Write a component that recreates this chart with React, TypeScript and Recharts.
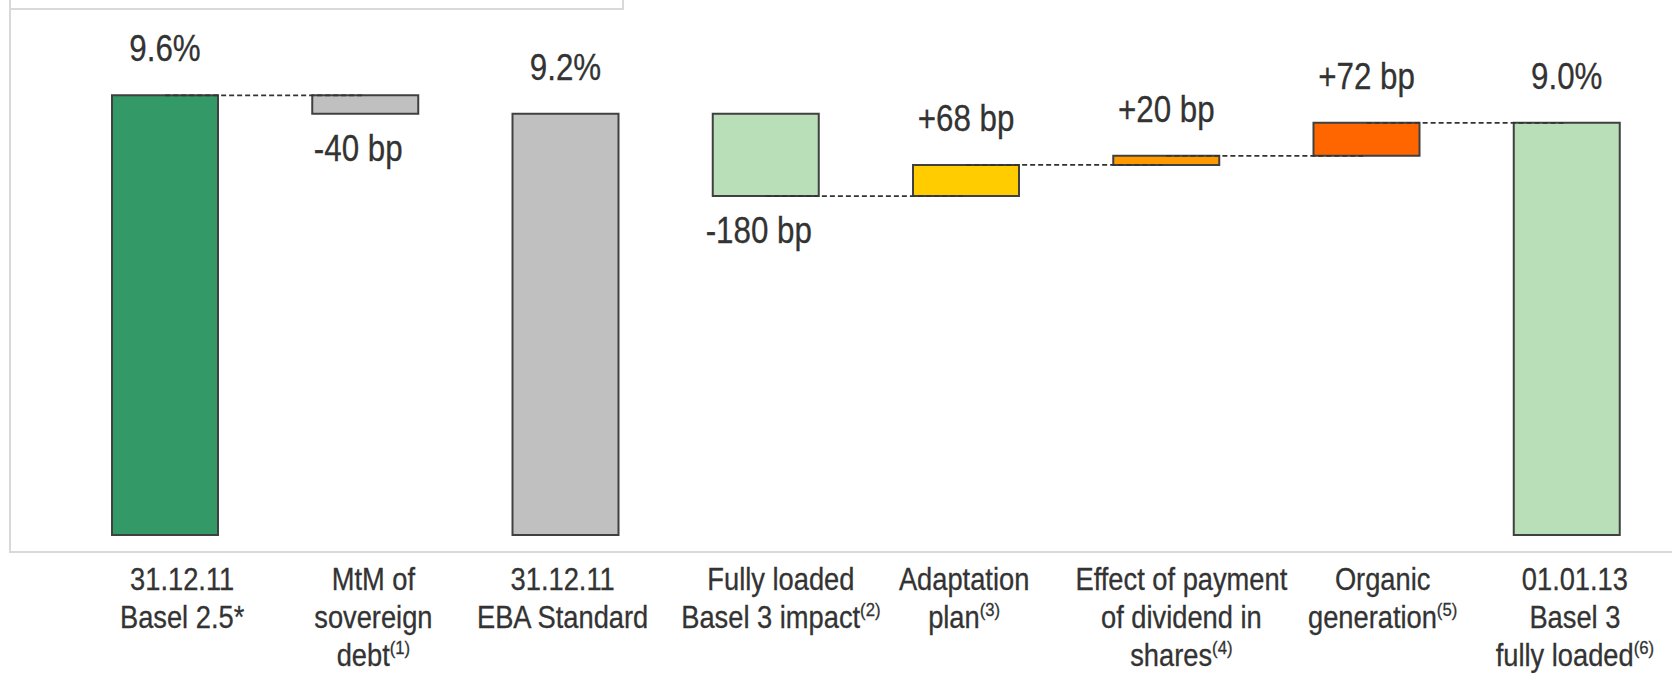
import React from 'react';
import { BarChart, Bar, XAxis, YAxis, Cell, LabelList, ReferenceLine } from 'recharts';

const CATEGORY_KEYS = ['c1', 'c2', 'c3', 'c4', 'c5', 'c6', 'c7', 'c8'];
const TICK_LABELS: string[][] = [
  ['31.12.11', 'Basel 2.5*'],
  ['MtM of', 'sovereign', 'debt^(1)'],
  ['31.12.11', 'EBA Standard'],
  ['Fully loaded', 'Basel 3 impact^(2)'],
  ['Adaptation', 'plan^(3)'],
  ['Effect of payment', 'of dividend in', 'shares^(4)'],
  ['Organic', 'generation^(5)'],
  ['01.01.13', 'Basel 3', 'fully loaded^(6)'],
];
const STEP_KIND = ['total', 'delta', 'total', 'delta', 'delta', 'delta', 'delta', 'total'];
const STEP_VALUES = [9.6, -0.4, 9.2, -1.8, 0.68, 0.2, 0.72, 9.0];
const BAR_COLORS = ['#339966', '#C0C0C0', '#C0C0C0', '#B9DFB9', '#FFCC00', '#FF9900', '#FF6600', '#B9DFB9'];
const CONNECTORS: [number, number][] = [[0, 1], [3, 4], [4, 5], [5, 6], [6, 7]];
const TICK_DX = [17, 8, -3, 15, -2, 15, 16, 8];
const LABEL_DX = [0, -7, 0, -7, 0, 0, 0, 0];

const FONT = "'Liberation Sans', Arial, sans-serif";
const AXIS_SCALE = 0.88;
const VALUE_SCALE = 0.87;
const TEXT = '#333333';

type Row = { key: string; base: number; span: number; end: number; kind: string; value: number; label: string };

const DATA: Row[] = (() => {
  let level = 0;
  return CATEGORY_KEYS.map((key, i) => {
    const v = STEP_VALUES[i];
    const kind = STEP_KIND[i];
    let base: number, span: number, end: number, label: string;
    if (kind === 'total') {
      base = 0; span = v; end = v; label = `${v.toFixed(1)}%`;
    } else {
      const start = level;
      end = start + v;
      base = Math.min(start, end);
      span = Math.abs(v);
      const bp = Math.round(v * 100);
      label = `${bp > 0 ? '+' : ''}${bp} bp`;
    }
    level = end;
    return { key, base, span, end, kind, value: v, label };
  });
})();

const AxisTick = (props: any) => {
  const { x, y, payload } = props;
  const i = CATEGORY_KEYS.indexOf(payload.value);
  const lines = TICK_LABELS[i] || [];
  return (
    <g transform={`translate(${x + TICK_DX[i]},${y}) scale(${AXIS_SCALE},1)`}>
      <text
        textAnchor="middle"
        fontFamily={FONT}
        fontSize={31}
        fill={TEXT}
        stroke={TEXT}
        strokeWidth={0.3}
      >
        {lines.map((ln, j) => {
          const [main, sup] = ln.split('^');
          return (
            <tspan key={j} x={0} y={55 + j * 38}>
              {main}
              {sup ? <tspan fontSize={19} dy={-12}>{sup}</tspan> : null}
            </tspan>
          );
        })}
      </text>
    </g>
  );
};

const ValueLabel = (props: any) => {
  const { x, y, width, height, index } = props;
  const d = DATA[index];
  if (!d) return null;
  const cx = x + width / 2 + LABEL_DX[index];
  const below = d.kind === 'delta' && d.value < 0;
  const ty = below ? y + Math.abs(height) + 47 : y - 34;
  return (
    <text
      transform={`translate(${cx},${ty}) scale(${VALUE_SCALE},1)`}
      x={0}
      y={0}
      textAnchor="middle"
      fontFamily={FONT}
      fontSize={36}
      fill={TEXT}
      stroke={TEXT}
      strokeWidth={0.3}
    >
      {d.label}
    </text>
  );
};

export default function App() {
  return (
    <div style={{ position: 'absolute', left: 0, top: 0, width: 1672, height: 673, background: '#fff' }}>
      <svg width={1672} height={673} style={{ position: 'absolute', left: 0, top: 0 }}>
        <g stroke="#D9D9D9" strokeWidth={2} fill="none">
          <polyline points="10,0 10,552 1672,552" />
          <polyline points="10,9 623,9 623,0" />
        </g>
      </svg>
      <div style={{ position: 'absolute', left: 0, top: 0 }}>
        <BarChart
          width={1672}
          height={673}
          data={DATA}
          margin={{ top: 77, right: 5, bottom: 0, left: 65 }}
          barSize={106}
        >
          <XAxis
            dataKey="key"
            height={138}
            axisLine={false}
            tickLine={false}
            tickSize={0}
            tickMargin={0}
            interval={0}
            tick={<AxisTick />}
          />
          <YAxis hide domain={[0, 10]} />
          <Bar dataKey="base" stackId="s" fill="transparent" isAnimationActive={false} />
          <Bar dataKey="span" stackId="s" stroke="#404040" strokeWidth={2} isAnimationActive={false}>
            {DATA.map((d, i) => (
              <Cell key={d.key} fill={BAR_COLORS[i]} />
            ))}
            <LabelList dataKey="span" content={<ValueLabel />} />
          </Bar>
          {CONNECTORS.map(([a, b]) => (
            <ReferenceLine
              key={`${a}-${b}`}
              segment={[
                { x: DATA[a].key, y: DATA[a].end },
                { x: DATA[b].key, y: DATA[a].end },
              ]}
              stroke="#333333"
              strokeWidth={1.8}
              strokeDasharray="5 3"
              ifOverflow="visible"
            />
          ))}
        </BarChart>
      </div>
    </div>
  );
}
